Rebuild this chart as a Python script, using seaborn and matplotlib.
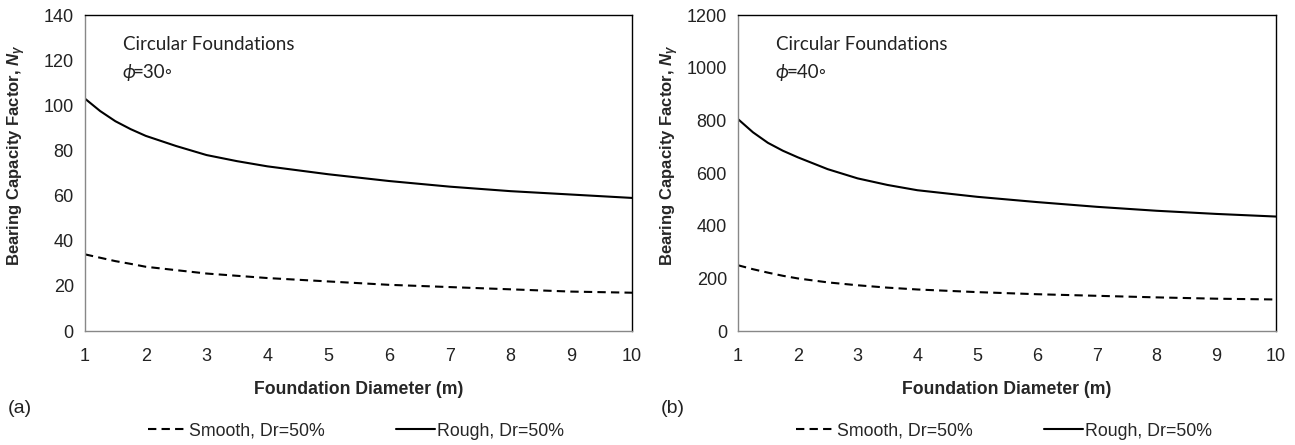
import numpy as np
import pandas as pd
import matplotlib
matplotlib.use("Agg")
import matplotlib.pyplot as plt
import matplotlib.transforms as mtransforms
import seaborn as sns
from matplotlib.lines import Line2D

# ---- data ----
diameter = [1, 1.25, 1.5, 1.75, 2, 2.5, 3, 3.5, 4, 5, 6, 7, 8, 9, 10]
rough_30 = [103, 97.5, 93, 89.5, 86.5, 82, 78, 75.3, 73, 69.5, 66.5, 64, 62, 60.5, 59]
smooth_30 = [34, 32.5, 31, 29.8, 28.5, 27, 25.5, 24.5, 23.5, 22, 20.5, 19.5, 18.5, 17.5, 17]
rough_40 = [805, 755, 715, 685, 660, 615, 580, 555, 535, 510, 490, 472, 457, 445, 435]
smooth_40 = [250, 235, 222, 210, 200, 185, 174, 165, 158, 148, 140, 134, 128, 123, 120]
series_names = ["Smooth, Dr=50%", "Rough, Dr=50%"]
xticks = list(range(1, 11))
yticks_a = list(range(0, 141, 20))
yticks_b = list(range(0, 1201, 200))
phis = ["30", "40"]
panel_labels = ["(a)", "(b)"]

sns.set_style("white")
plt.rcParams["font.family"] = ["Liberation Sans", "DejaVu Sans"]
plt.rcParams["mathtext.fontset"] = "custom"
plt.rcParams["mathtext.it"] = "Liberation Sans:bold:italic"
plt.rcParams["mathtext.rm"] = "Liberation Sans:bold"

fig = plt.figure(figsize=(12.95, 4.45), dpi=100)
ax_a = fig.add_axes([0.0656, 0.256, 0.4225, 0.710])
ax_b = fig.add_axes([0.5699, 0.256, 0.4154, 0.710])

def make_df(smooth, rough):
    return pd.DataFrame({
        "D": diameter * 2,
        "N": smooth + rough,
        "series": [series_names[0]] * len(diameter) + [series_names[1]] * len(diameter),
    })

panels = [
    (ax_a, make_df(smooth_30, rough_30), yticks_a, phis[0], panel_labels[0], 0.0656, 0.4225),
    (ax_b, make_df(smooth_40, rough_40), yticks_b, phis[1], panel_labels[1], 0.5699, 0.4154),
]

ann_family = ["Lato", "DejaVu Sans"]

for ax, df, yt, phi, plabel, left, width in panels:
    sns.lineplot(data=df, x="D", y="N", style="series", ax=ax, color="black",
                 dashes={series_names[0]: (4, 2.5), series_names[1]: ""},
                 linewidth=1.5, legend=False)
    ax.set_xlim(1, 10)
    ax.set_ylim(yt[0], yt[-1])
    ax.set_xticks(xticks)
    ax.set_yticks(yt)
    ax.tick_params(axis="both", labelsize=13, colors="#222222", length=5,
                   direction="out", color="#888888", width=1)
    ax.tick_params(axis="x", pad=8, length=4)
    ax.tick_params(axis="y", pad=3)
    for s in ["left", "bottom"]:
        ax.spines[s].set_color("#888888")
        ax.spines[s].set_linewidth(1)
    for s in ["top", "right"]:
        ax.spines[s].set_color("black")
        ax.spines[s].set_linewidth(1)
    ax.set_xlabel("Foundation Diameter (m)", fontsize=12.7, fontweight="bold", labelpad=12)
    ax.set_ylabel("Bearing Capacity Factor, $N_\\gamma$", fontsize=12, fontweight="bold")
    ax.yaxis.set_label_coords(-0.104 * 0.4225 / width, 0.555)
    xp = 0.069 * 0.4225 / width
    ax.text(xp, 0.908, "Circular Foundations", transform=ax.transAxes,
            fontsize=13.5, family=ann_family, color="#222222", va="center")
    ax.text(xp, 0.82, "\u03d5", transform=ax.transAxes, fontsize=13.5,
            family=ann_family, color="#222222", va="center", style="italic")
    off = mtransforms.offset_copy(ax.transAxes, fig=fig, x=7.5, y=0, units="points")
    ax.text(xp, 0.82, "=" + phi + "\u25e6", transform=off, fontsize=13.5,
            family=ann_family, color="#222222", va="center")
    fig.text(left - 0.06, 0.083, plabel, fontsize=14, color="#222222", va="center")
    handles = [Line2D([0], [0], color="black", lw=1.5, dashes=(4, 2.5)),
               Line2D([0], [0], color="black", lw=1.5)]
    fig.legend(handles, series_names, loc="center", ncol=2, frameon=False,
               bbox_to_anchor=(left + width * 0.495, 0.031), fontsize=12.8,
               handlelength=2.2, handletextpad=0.1, columnspacing=4.0)

fig.savefig("out.png", dpi=100)
